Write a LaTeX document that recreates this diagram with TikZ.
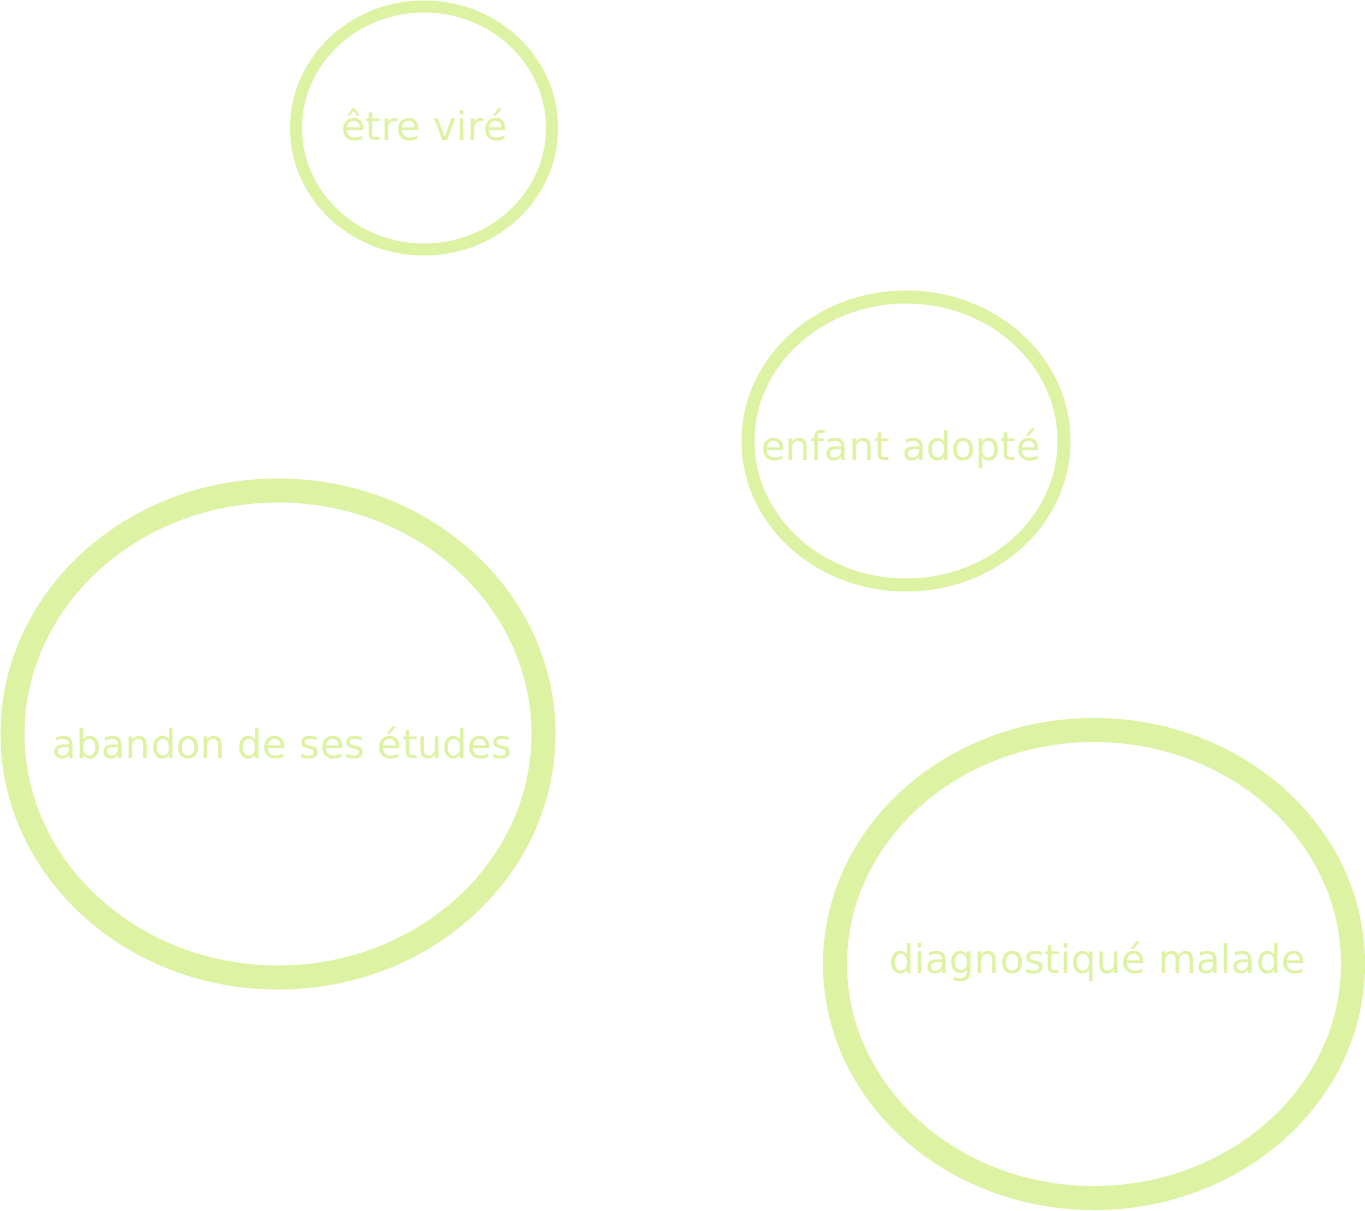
\documentclass[tikz,border=0pt]{standalone}
\usepackage{fontspec}
\setmainfont{DejaVu Sans}
\definecolor{lg}{HTML}{DDF2A2}
\begin{document}
\begin{tikzpicture}[x=1pt,y=-1pt,
  bubble/.style={draw=lg},
  lbl/.style={text=lg,font=\fontsize{39.5}{46}\selectfont,inner sep=0pt,anchor=base}]
\useasboundingbox (0,0) rectangle (1365,1210);
\draw[bubble,line width=12pt] (424,128) ellipse [x radius=128, y radius=121.5];
\draw[bubble,line width=13pt] (906,441) ellipse [x radius=158, y radius=144];
\draw[bubble,line width=24pt] (278,734) ellipse [x radius=265.5, y radius=243.5];
\draw[bubble,line width=24pt] (1094,964) ellipse [x radius=259, y radius=234];
\node[lbl] (a) at (424.5,140) {être viré};
\node[lbl] (b) at (901,460) {enfant adopté};
\node[lbl] (c) at (282.5,758) {abandon de ses études};
\node[lbl] (d) at (1097.5,973) {diagnostiqué malade};
\end{tikzpicture}
\end{document}
